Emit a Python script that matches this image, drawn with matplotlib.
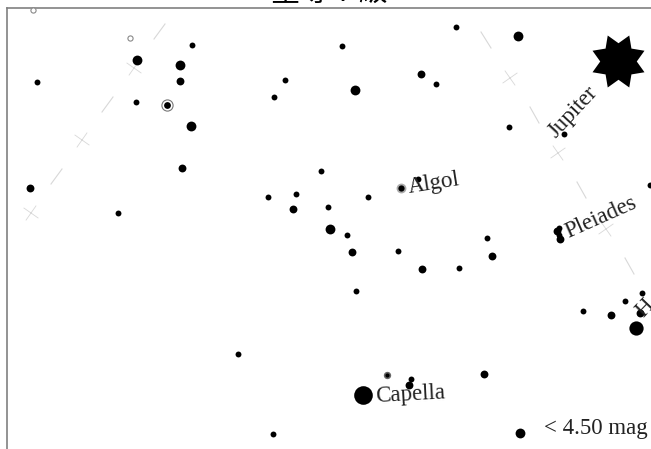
import matplotlib
matplotlib.use('Agg')
import matplotlib.pyplot as plt
from matplotlib.path import Path
from matplotlib.transforms import Affine2D

plt.rcParams['font.family'] = ['Liberation Serif', 'DejaVu Serif']

# star positions (x, y in image pixels), by size class
small_x = [37, 136, 192, 274, 285, 342, 436, 456, 509, 564, 321, 296, 268, 328, 368, 347, 398, 459, 487, 356, 583, 625, 642, 238, 273, 118, 411, 418, 559, 559, 650]
small_y = [82, 102, 45, 97, 80, 46, 84, 27, 127, 134, 171, 194, 197, 207, 197, 235, 251, 268, 238, 291, 311, 301, 293, 354, 434, 213, 379, 179, 228, 235, 185]
medium_x = [180, 182, 30, 421, 352, 293, 422, 492, 484, 409, 611, 640, 557, 560]
medium_y = [81, 168, 188, 74, 252, 209, 269, 256, 374, 385, 315, 313, 231, 239]
large_x = [137, 180, 191, 355, 518, 330, 520]
large_y = [60, 65, 126, 90, 36, 229, 433]
big_x = [636]
big_y = [328]
giant_x = [363]
giant_y = [395]

ringed_x = [167]
ringed_y = [105]
algol_x = [401]
algol_y = [188]
grey_x = [387]
grey_y = [375]
hollow_x = [33, 130]
hollow_y = [10.5, 38]

# guide line: dashes and crosses
dash_x = [[154, 165], [102, 113], [51, 62], [481, 491], [530, 539], [577, 586], [625, 634]]
dash_y = [[39, 24], [112, 97], [184, 169], [32, 48], [107, 123], [182, 198], [258, 274]]
cross_left_x = [134, 82, 31]
cross_left_y = [68, 140, 213]
cross_right_x = [510, 558, 606]
cross_right_y = [78, 153, 229]

labels = ['Jupiter', 'Algol', 'Pleiades', 'Capella', 'H']
label_x = [556, 409, 568, 376, 643]
label_y = [139, 193, 238, 402, 318]
label_rot = [47, 9, 24, 3, 46]

star8 = Path.unit_regular_star(8, innerCircle=0.65).transformed(Affine2D().rotate_deg(22.5))

# plus sign tilted along the guide line
plus = Path([(-1, 0), (1, 0), (0, -1), (0, 1)],
            [Path.MOVETO, Path.LINETO, Path.MOVETO, Path.LINETO])
cross_left = plus.transformed(Affine2D().rotate_deg(-35))
cross_right = plus.transformed(Affine2D().rotate_deg(35))

fig = plt.figure(figsize=(6.51, 4.49), dpi=100)
# axes runs off the right and bottom edges, as in the picture
ax = fig.add_axes([7 / 651, -20 / 449, 660 / 651, 461 / 449])
ax.set_xlim(7, 667)
ax.set_ylim(469, 8)
ax.set_xticks([])
ax.set_yticks([])
for s in ax.spines.values():
    s.set_color('#808080')
    s.set_linewidth(1.2)

for xs, ys in zip(dash_x, dash_y):
    ax.plot(xs, ys, color='#d8d8d8', lw=0.8)
ax.scatter(cross_left_x, cross_left_y, s=113, marker=cross_left, facecolors='none', edgecolors='#d8d8d8', linewidths=0.6)
ax.scatter(cross_right_x, cross_right_y, s=113, marker=cross_right, facecolors='none', edgecolors='#d8d8d8', linewidths=0.6)

ax.scatter(small_x, small_y, s=18, color='black', linewidths=0, zorder=3)
ax.scatter(medium_x, medium_y, s=32, color='black', linewidths=0, zorder=3)
ax.scatter(large_x, large_y, s=50, color='black', linewidths=0, zorder=3)
ax.scatter(big_x, big_y, s=105, color='black', linewidths=0, zorder=3)
ax.scatter(giant_x, giant_y, s=180, color='black', linewidths=0, zorder=3)

ax.scatter(ringed_x, ringed_y, s=65, facecolors='white', edgecolors='#777777', linewidths=0.8, zorder=3)
ax.scatter(ringed_x, ringed_y, s=24, color='black', linewidths=0, zorder=4)
ax.scatter(algol_x, algol_y, s=50, color='#aaaaaa', linewidths=0, zorder=3)
ax.scatter(algol_x, algol_y, s=20, color='black', linewidths=0, zorder=4)
ax.scatter(grey_x, grey_y, s=28, color='#666666', linewidths=0, zorder=3)
ax.scatter(grey_x, grey_y, s=9, color='black', linewidths=0, zorder=4)
ax.scatter(hollow_x, hollow_y, s=14, facecolors='white', edgecolors='#888888', linewidths=0.8, zorder=3, clip_on=False)

# Jupiter marker
ax.scatter([618], [61], s=1400, marker=star8, color='black', linewidths=0, zorder=3)

for name, x, y, r in zip(labels, label_x, label_y, label_rot):
    ax.text(x, y, name, fontsize=16.5, rotation=r, rotation_mode='anchor',
            ha='left', va='baseline', color='#222222', zorder=5, clip_on=True)
ax.text(544, 434, '< 4.50 mag', fontsize=16.5, ha='left', va='baseline', color='#222222', zorder=5)

fig.text(329 / 651, 1 + 7 / 449, '星等 7 級', fontsize=21, ha='center', va='center',
         family=['Noto Sans CJK TC', 'DejaVu Sans'])

fig.savefig('out.png', dpi=100)
